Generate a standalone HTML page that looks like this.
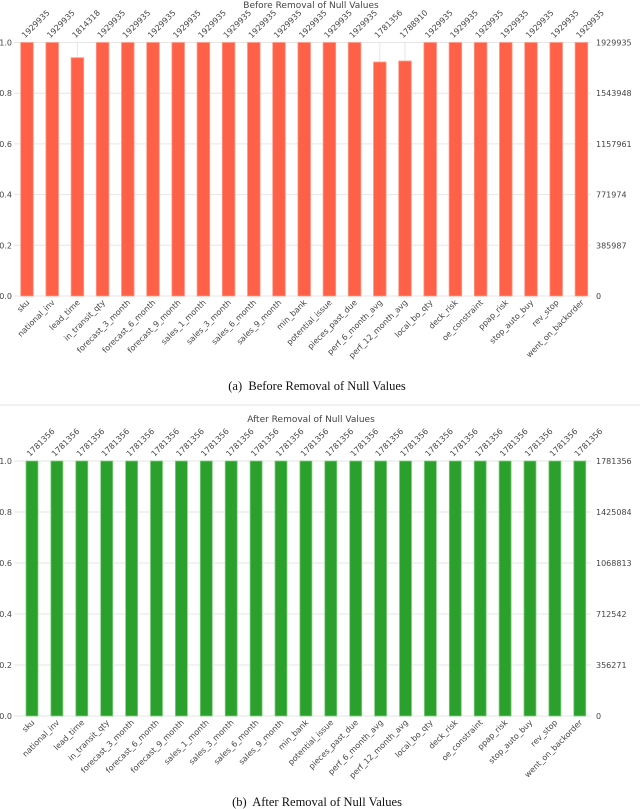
<!DOCTYPE html>
<html><head><meta charset="utf-8"><style>
body{margin:0;background:#fff;}
svg{display:block;}
.t{font-family:"DejaVu Sans","Liberation Sans",sans-serif;fill:#444;}
.cap{font-family:"Liberation Serif",serif;fill:#111;font-size:12.5px;}
</style></head><body>
<svg id="s" width="640" height="809" xmlns="http://www.w3.org/2000/svg">
<text class="cap" x="317" y="390" text-anchor="middle">(a)&#160; Before Removal of Null Values</text>
<line x1="0" y1="405" x2="640" y2="405" stroke="#e4e4e4" stroke-width="1"/>
<text class="cap" x="317" y="806" text-anchor="middle">(b)&#160; After Removal of Null Values</text>
</svg>
<script>
const categories=["sku","national_inv","lead_time","in_transit_qty","forecast_3_month","forecast_6_month","forecast_9_month","sales_1_month","sales_3_month","sales_6_month","sales_9_month","min_bank","potential_issue","pieces_past_due","perf_6_month_avg","perf_12_month_avg","local_bo_qty","deck_risk","oe_constraint","ppap_risk","stop_auto_buy","rev_stop","went_on_backorder"];
const beforeCounts=[1929935,1929935,1814318,1929935,1929935,1929935,1929935,1929935,1929935,1929935,1929935,1929935,1929935,1929935,1781356,1788910,1929935,1929935,1929935,1929935,1929935,1929935,1929935];
const afterCounts=[1781356,1781356,1781356,1781356,1781356,1781356,1781356,1781356,1781356,1781356,1781356,1781356,1781356,1781356,1781356,1781356,1781356,1781356,1781356,1781356,1781356,1781356,1781356];
const leftTicks=[0,0.2,0.4,0.6,0.8,1.0];
const beforeRightTicks=["0","385987","771974","1157961","1543948","1929935"];
const afterRightTicks=["0","356271","712542","1068813","1425084","1781356"];
const NS="http://www.w3.org/2000/svg";
const svg=document.getElementById('s');
function mk(tag,attrs,parent){const e=document.createElementNS(NS,tag);for(const k in attrs)e.setAttribute(k,attrs[k]);(parent||svg).appendChild(e);return e;}
function chart(cfg){
  const g=mk('g',{});
  
  
  const total=Math.max(...cfg.values);
  const y=v=>cfg.y0-(cfg.y0-cfg.y1)*v;
  const x=i=>cfg.x0+i*cfg.step;
  const t=mk('text',{class:'t',x:311,y:cfg.titleY,'text-anchor':'middle','font-size':'9'},g);
  t.textContent=cfg.title;
  
  
  leftTicks.forEach((v,k)=>{
    const ln=mk('line',{x1:14,x2:591,y1:y(v),y2:y(v),stroke:'#e6e6e6','stroke-width':1},g);
    
    
    const lt=mk('text',{class:'t',x:12,y:y(v)+3,'text-anchor':'end','font-size':'8'},g);
    lt.textContent=v.toFixed(1);
    
    
    const rt=mk('text',{class:'t',x:596,y:y(v)+3,'font-size':'8'},g);
    rt.textContent=cfg.right[k];
    
    
  });
  categories.forEach((c,i)=>{
    const cx=x(i);
    const vl=mk('line',{x1:cx,x2:cx,y1:cfg.y1,y2:cfg.y0,stroke:'#e6e6e6','stroke-width':1},g);
    
    
    const frac=cfg.values[i]/total;
    const b=mk('rect',{x:cx-cfg.bw/2,y:y(frac),width:cfg.bw,height:cfg.y0-y(frac),fill:cfg.color,stroke:cfg.edge,'stroke-width':0.8},g);
    
    
    const vt=mk('text',{class:'t','font-size':'8',transform:`translate(${cx-2},${cfg.y1-4}) rotate(-45)`},g);
    vt.textContent=cfg.values[i];
    
    
    const ct=mk('text',{class:'t','font-size':'8','text-anchor':'end',transform:`translate(${cx+3},${cfg.y0+7}) rotate(-45)`},g);
    ct.textContent=c;
    
    
  });
}
chart({name:'before-chart',title:'Before Removal of Null Values',titleY:8,values:beforeCounts,right:beforeRightTicks,y0:296,y1:42.5,x0:27,step:25.2,bw:12.6,color:'#fe6148',edge:'#ff9a88'});
chart({name:'after-chart',title:'After Removal of Null Values',titleY:422,values:afterCounts,right:afterRightTicks,y0:716,y1:461,x0:32,step:24.9,bw:12,color:'#2ca02c',edge:'#7fcf7f'});
</script>
</body></html>
